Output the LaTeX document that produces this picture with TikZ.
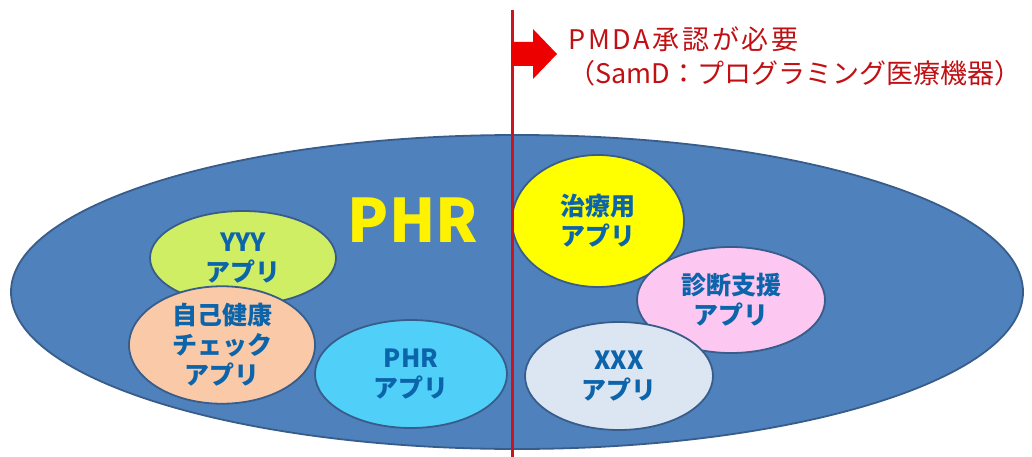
\documentclass[tikz,border=0pt]{standalone}
\usepackage{fontspec}
\setmainfont{Noto Sans CJK JP}
\usetikzlibrary{shapes.geometric}
\definecolor{bigblue}{RGB}{79,129,189}
\definecolor{edgeblue}{RGB}{56,93,138}
\definecolor{txtblue}{RGB}{12,100,170}
\definecolor{limefill}{RGB}{208,238,100}
\definecolor{peachfill}{RGB}{250,202,168}
\definecolor{cyanfill}{RGB}{80,208,248}
\definecolor{yelfill}{RGB}{255,255,0}
\definecolor{pinkfill}{RGB}{252,200,242}
\definecolor{grayfill}{RGB}{220,230,242}
\definecolor{redline}{RGB}{204,20,30}
\definecolor{redarrow}{RGB}{236,0,0}
\definecolor{redtext}{RGB}{192,16,20}
\tikzset{
  app/.style={ellipse, draw=edgeblue, line width=1.8pt, inner sep=0pt, align=center,
    text=txtblue, font=\fontsize{25}{30}\selectfont\bfseries},
}
\begin{document}
\begin{tikzpicture}[x=1pt,y=-1pt]
\useasboundingbox (0,0) rectangle (1032,457);
\node[ellipse, draw=edgeblue, line width=1.8pt, fill=bigblue, minimum width=1012pt, minimum height=314pt, inner sep=0pt] (big) at (517,292) {};
\node[font=\fontsize{60}{60}\selectfont\bfseries, text=yellow] (phr) at (413,220) {PHR};
\node[app, fill=limefill, minimum width=186pt, minimum height=94pt] (yyy) at (243,258) {YYY\\アプリ};
\node[app, fill=peachfill, minimum width=186pt, minimum height=106pt] (self) at (222,345) {自己健康\\チェック\\アプリ};
\node[app, fill=cyanfill, minimum width=192pt, minimum height=108pt] (phrapp) at (411,374) {PHR\\アプリ};
\node[app, fill=yelfill, minimum width=172pt, minimum height=132pt] (treat) at (598,221) {治療用\\アプリ};
\node[app, fill=pinkfill, minimum width=188pt, minimum height=106pt] (diag) at (731,300) {診断支援\\アプリ};
\node[app, fill=grayfill, minimum width=188pt, minimum height=108pt] (xxx) at (619,376) {XXX\\アプリ};
\coordinate (ltop) at (512,10);
\coordinate (lbot) at (512,457);
\draw[redline, line width=3pt] (ltop) -- (lbot);
\fill[redarrow] (511,42) -- (533,42) -- (533,29) -- (557,54) -- (533,79) -- (533,66) -- (511,66) -- cycle;
\node[anchor=north west, align=left, inner sep=0pt, text=redtext, font=\fontsize{27}{34}\selectfont] (pmda) at (568,26) {{\addfontfeatures{LetterSpace=10}PMDA承認が必要}\\（SamD：プログラミング医療機器）};
\end{tikzpicture}
\end{document}
